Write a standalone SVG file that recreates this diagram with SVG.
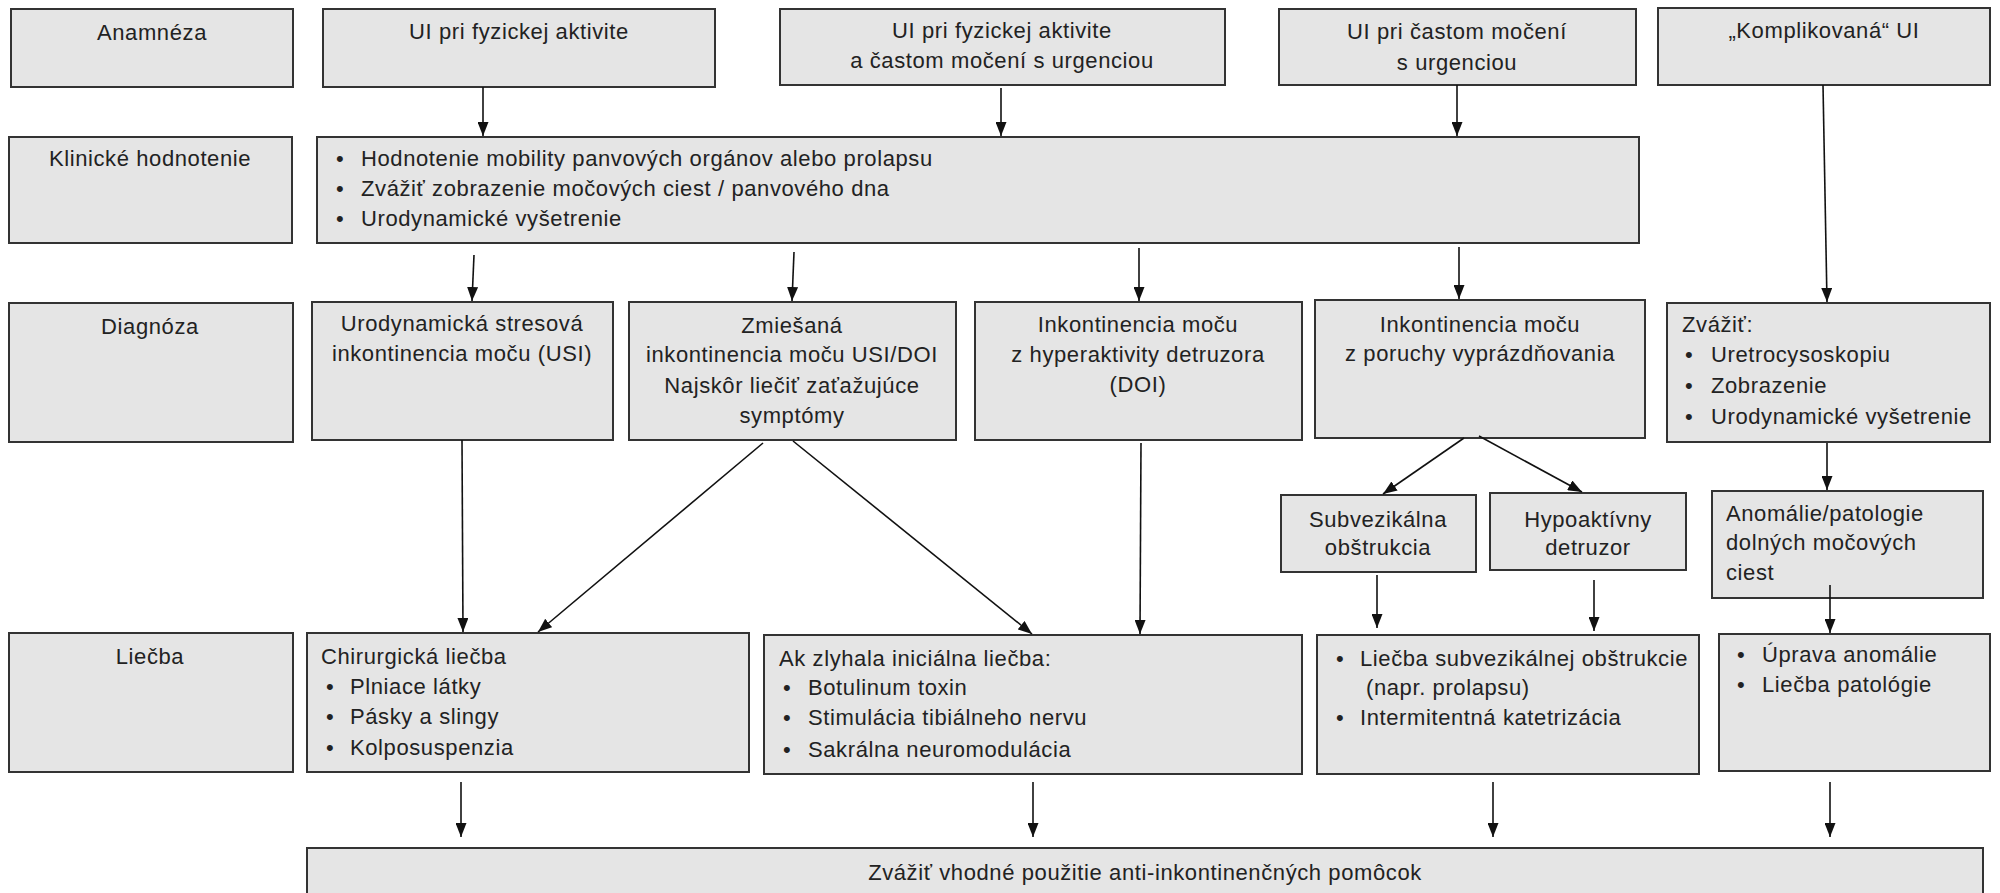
<svg xmlns="http://www.w3.org/2000/svg" width="2000" height="893" viewBox="0 0 2000 893">
  <style>
    .box { fill: #e5e5e5; stroke: #333333; stroke-width: 2; }
    text { font-family: "Liberation Sans", Arial, sans-serif; font-size: 22px; letter-spacing: 0.6px; fill: #222222; }
    .c { text-anchor: middle; }
    .conn line { stroke: #111111; stroke-width: 1.6; marker-end: url(#ah); }
  </style>
  <defs>
    <marker id="ah" viewBox="0 0 14 11" refX="14" refY="5.5" markerWidth="14" markerHeight="11" markerUnits="userSpaceOnUse" orient="auto">
      <path d="M0,0 L14,5.5 L0,11 z" fill="#111111"/>
    </marker>
  </defs>
  <rect width="2000" height="893" fill="#ffffff"/>

  <!-- row labels -->
  <g id="lbl-anamneza"><rect class="box" x="11" y="9" width="282" height="78"/><text class="c" x="152" y="40">Anamnéza</text></g>
  <g id="lbl-klinicke"><rect class="box" x="9" y="137" width="283" height="106"/><text class="c" x="150" y="166">Klinické hodnotenie</text></g>
  <g id="lbl-diagnoza"><rect class="box" x="9" y="303" width="284" height="139"/><text class="c" x="150" y="334">Diagnóza</text></g>
  <g id="lbl-liecba"><rect class="box" x="9" y="633" width="284" height="139"/><text class="c" x="150" y="664">Liečba</text></g>

  <!-- history -->
  <g id="ui-fyz"><rect class="box" x="323" y="9" width="392" height="78"/><text class="c" x="519" y="39">UI pri fyzickej aktivite</text></g>
  <g id="ui-mix"><rect class="box" x="780" y="9" width="445" height="76"/><text class="c" x="1002" y="38">UI pri fyzickej aktivite</text><text class="c" x="1002" y="68">a častom močení s urgenciou</text></g>
  <g id="ui-urg"><rect class="box" x="1279" y="9" width="357" height="76"/><text class="c" x="1457" y="39">UI pri častom močení</text><text class="c" x="1457" y="70">s urgenciou</text></g>
  <g id="ui-kompl"><rect class="box" x="1658" y="8" width="332" height="77"/><text class="c" x="1824" y="38">„Komplikovaná“ UI</text></g>

  <!-- clinical assessment -->
  <g id="klin">
    <rect class="box" x="317" y="137" width="1322" height="106"/>
    <text x="336" y="166">•</text><text x="361" y="166">Hodnotenie mobility panvových orgánov alebo prolapsu</text>
    <text x="336" y="196">•</text><text x="361" y="196">Zvážiť zobrazenie močových ciest / panvového dna</text>
    <text x="336" y="226">•</text><text x="361" y="226">Urodynamické vyšetrenie</text>
  </g>

  <!-- diagnosis -->
  <g id="dg-usi"><rect class="box" x="312" y="302" width="301" height="138"/><text class="c" x="462" y="331">Urodynamická stresová</text><text class="c" x="462" y="361">inkontinencia moču (USI)</text></g>
  <g id="dg-mix"><rect class="box" x="629" y="302" width="327" height="138"/><text class="c" x="792" y="333">Zmiešaná</text><text class="c" x="792" y="362">inkontinencia moču USI/DOI</text><text class="c" x="792" y="393">Najskôr liečiť zaťažujúce</text><text class="c" x="792" y="423">symptómy</text></g>
  <g id="dg-doi"><rect class="box" x="975" y="302" width="327" height="138"/><text class="c" x="1138" y="332">Inkontinencia moču</text><text class="c" x="1138" y="362">z hyperaktivity detruzora</text><text class="c" x="1138" y="392">(DOI)</text></g>
  <g id="dg-void"><rect class="box" x="1315" y="300" width="330" height="138"/><text class="c" x="1480" y="332">Inkontinencia moču</text><text class="c" x="1480" y="361">z poruchy vyprázdňovania</text></g>
  <g id="dg-kompl">
    <rect class="box" x="1667" y="303" width="323" height="139"/>
    <text x="1682" y="332">Zvážiť:</text>
    <text x="1685" y="362">•</text><text x="1711" y="362">Uretrocysoskopiu</text>
    <text x="1685" y="393">•</text><text x="1711" y="393">Zobrazenie</text>
    <text x="1685" y="424">•</text><text x="1711" y="424">Urodynamické vyšetrenie</text>
  </g>
  <g id="sub-obst"><rect class="box" x="1281" y="495" width="195" height="77"/><text class="c" x="1378" y="527">Subvezikálna</text><text class="c" x="1378" y="555">obštrukcia</text></g>
  <g id="sub-hypo"><rect class="box" x="1490" y="493" width="196" height="77"/><text class="c" x="1588" y="527">Hypoaktívny</text><text class="c" x="1588" y="555">detruzor</text></g>
  <g id="sub-anom"><rect class="box" x="1712" y="491" width="271" height="107"/><text x="1726" y="521">Anomálie/patologie</text><text x="1726" y="550">dolných močových</text><text x="1726" y="580">ciest</text></g>

  <!-- treatment -->
  <g id="tx-chir">
    <rect class="box" x="307" y="633" width="442" height="139"/>
    <text x="321" y="664">Chirurgická liečba</text>
    <text x="326" y="694">•</text><text x="350" y="694">Plniace látky</text>
    <text x="326" y="724">•</text><text x="350" y="724">Pásky a slingy</text>
    <text x="326" y="755">•</text><text x="350" y="755">Kolposuspenzia</text>
  </g>
  <g id="tx-fail">
    <rect class="box" x="764" y="635" width="538" height="139"/>
    <text x="779" y="666">Ak zlyhala iniciálna liečba:</text>
    <text x="783" y="695">•</text><text x="808" y="695">Botulinum toxin</text>
    <text x="783" y="725">•</text><text x="808" y="725">Stimulácia tibiálneho nervu</text>
    <text x="783" y="757">•</text><text x="808" y="757">Sakrálna neuromodulácia</text>
  </g>
  <g id="tx-void">
    <rect class="box" x="1317" y="635" width="382" height="139"/>
    <text x="1336" y="666">•</text><text x="1360" y="666">Liečba subvezikálnej obštrukcie</text>
    <text x="1366" y="695">(napr. prolapsu)</text>
    <text x="1336" y="725">•</text><text x="1360" y="725">Intermitentná katetrizácia</text>
  </g>
  <g id="tx-anom">
    <rect class="box" x="1719" y="634" width="271" height="137"/>
    <text x="1737" y="662">•</text><text x="1762" y="662">Úprava anomálie</text>
    <text x="1737" y="692">•</text><text x="1762" y="692">Liečba patológie</text>
  </g>

  <g id="aids"><rect class="box" x="307" y="848" width="1676" height="60"/><text class="c" x="1145" y="880">Zvážiť vhodné použitie anti-inkontinenčných pomôcok</text></g>

  <!-- connectors -->
  <g class="conn" id="connectors">
    <line x1="483" y1="87" x2="483" y2="136"/>
    <line x1="1001" y1="88" x2="1001" y2="136"/>
    <line x1="1457" y1="85" x2="1457" y2="136"/>
    <line x1="1823" y1="85" x2="1827" y2="302"/>
    <line x1="474" y1="255" x2="472" y2="301"/>
    <line x1="794" y1="252" x2="792" y2="301"/>
    <line x1="1139" y1="248" x2="1139" y2="301"/>
    <line x1="1459" y1="247" x2="1459" y2="299"/>
    <line x1="1464" y1="438" x2="1383" y2="494"/>
    <line x1="1479" y1="436" x2="1582" y2="492"/>
    <line x1="1827" y1="443" x2="1827" y2="490"/>
    <line x1="462" y1="440" x2="463" y2="632"/>
    <line x1="763" y1="443" x2="538" y2="632"/>
    <line x1="793" y1="441" x2="1032" y2="634"/>
    <line x1="1141" y1="443" x2="1140" y2="634"/>
    <line x1="1377" y1="575" x2="1377" y2="628"/>
    <line x1="1594" y1="580" x2="1594" y2="631"/>
    <line x1="1830" y1="585" x2="1830" y2="633"/>
    <line x1="461" y1="782" x2="461" y2="837"/>
    <line x1="1033" y1="782" x2="1033" y2="837"/>
    <line x1="1493" y1="782" x2="1493" y2="837"/>
    <line x1="1830" y1="782" x2="1830" y2="837"/>
  </g>
</svg>
